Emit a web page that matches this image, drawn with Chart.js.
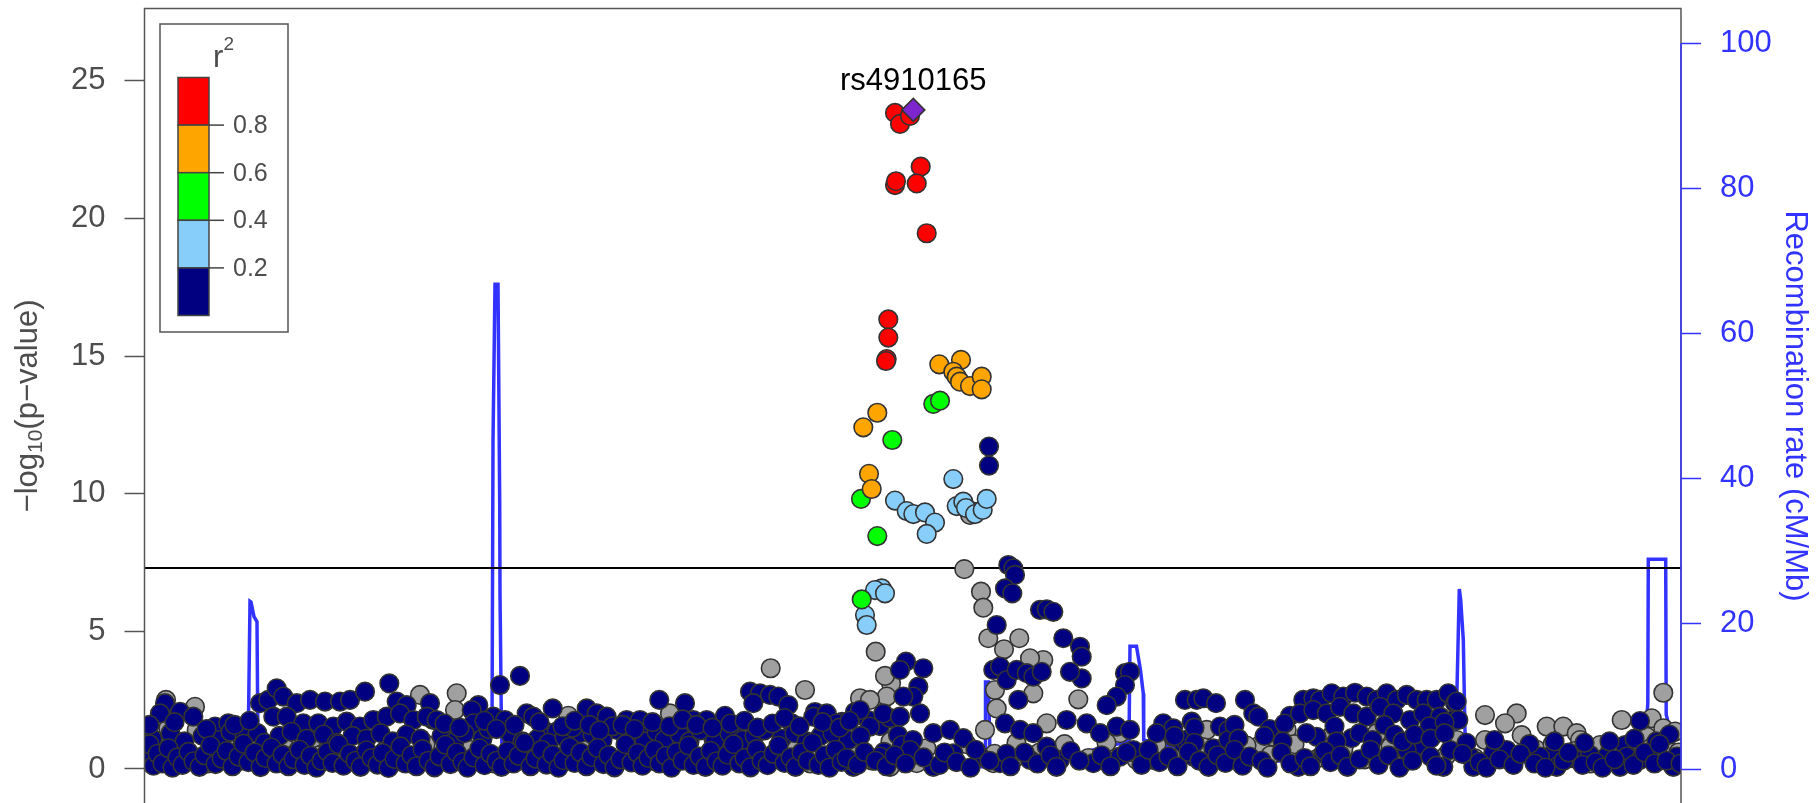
<!DOCTYPE html>
<html>
<head>
<meta charset="utf-8">
<script src="https://cdn.jsdelivr.net/npm/chart.js@4"></script>
<style>
  body { margin: 0; background: #fff; }
  canvas { display: block; }
</style>
</head>
<body>
<canvas id="chart" width="1816" height="803"></canvas>
<script>
// position in kb from the start of the window, value is -log10(p)
const leadSnp = [[768.8, 23.94]];
const leadName = 'rs4910165';
const sigThreshold = 7.30103;

const redSnps = [
  [750.5, 23.83], [755.5, 23.43], [765.5, 23.72], [776.2, 21.88], [750.5, 21.21], [751.5, 21.35],
  [772.2, 21.27], [782.2, 19.46], [743.8, 16.33], [743.8, 15.67], [742.2, 14.89], [741.5, 14.82]
];
const orangeSnps = [
  [794.8, 14.70], [816.5, 14.86], [808.8, 14.43], [812.2, 14.25], [815.5, 14.07], [825.5, 13.91],
  [837.2, 14.25], [837.2, 13.79], [732.8, 12.94], [718.8, 12.41], [724.5, 10.72], [727.2, 10.17]
];
const greenSnps = [
  [788.8, 13.26], [795.5, 13.38], [747.8, 11.95], [716.5, 9.81], [732.8, 8.46], [717.2, 6.16]
];
const lightBlueSnps = [
  [808.8, 10.53], [750.5, 9.75], [762.2, 9.37], [768.8, 9.26], [780.5, 9.32], [790.5, 8.95],
  [782.2, 8.54], [812.2, 9.55], [818.8, 9.71], [821.5, 9.48], [830.5, 9.26], [838.2, 9.41],
  [842.2, 9.81], [737.2, 6.56], [730.5, 6.50], [740.5, 6.38], [720.5, 5.59], [722.2, 5.23]
];
const navySnps = [
  // peak shoulder
  [844.5, 11.71], [844.5, 11.02], [863.8, 7.41], [868.8, 7.29], [870.5, 7.05], [860.5, 6.56], [867.8, 6.38],
  [852.2, 5.23], [895.5, 5.78], [902.2, 5.80], [908.8, 5.71], [918.8, 4.75], [935.5, 4.44], [937.2, 4.08],
  [937.2, 3.29], [925.5, 3.53], [980.5, 3.48], [985.5, 3.53], [980.5, 3.05], [972.2, 2.63], [962.2, 2.32],
  [1040.5, 2.51], [1052.2, 2.51], [1047.2, 1.72], [848.8, 3.60], [855.5, 3.72], [862.2, 3.23], [872.2, 3.60],
  [882.2, 3.48], [888.8, 3.35], [897.2, 3.53], [873.8, 2.51], [761.5, 3.90], [778.8, 3.66], [773.8, 2.99],
  [768.8, 2.63], [755.5, 3.60], [758.8, 2.63],
  // upper band, left half
  [20.5, 2.39], [15.5, 2.02], [35.5, 2.08], [48.8, 1.90], [70.5, 1.54], [83.8, 1.66], [95.5, 1.42],
  [115.5, 2.39], [123.8, 2.51], [132.2, 2.93], [138.8, 2.63], [152.2, 2.39], [165.5, 2.51], [180.5, 2.45],
  [195.5, 2.45], [205.5, 2.51], [220.5, 2.81], [244.8, 3.11], [252.2, 2.45], [262.2, 2.32], [285.5, 2.39],
  [288.8, 1.78], [128.8, 1.90], [142.2, 1.90], [158.8, 1.66], [173.8, 1.66], [188.8, 1.54], [202.2, 1.72],
  [215.5, 1.54], [228.8, 1.78], [242.2, 1.90], [255.5, 2.02], [268.8, 1.78], [282.2, 1.90],
  [355.5, 3.05], [375.5, 3.38], [292.2, 1.78], [333.8, 2.32], [327.2, 2.14], [328.8, 1.66], [348.8, 1.90],
  [360.5, 1.78], [382.2, 2.02], [388.8, 1.90], [408.2, 2.20], [442.2, 2.20], [452.2, 2.02], [462.2, 1.90],
  [398.8, 1.42], [412.2, 1.36], [435.5, 1.30], [482.2, 1.78], [495.5, 1.78], [514.8, 2.51], [540.5, 2.39],
  [548.8, 1.78], [548.8, 1.36], [578.8, 1.78], [562.2, 1.78], [505.5, 1.42], [472.2, 1.42],
  [605.5, 2.81], [615.5, 2.75], [625.5, 2.69], [633.8, 2.63], [643.8, 2.32], [647.2, 1.66], [608.8, 2.39],
  [580.5, 1.93], [590.5, 1.60], [670.5, 2.07], [683.5, 1.85], [697.5, 1.71], [710.5, 2.07], [723.5, 1.78],
  [735.5, 1.56], [745.5, 1.85], [753.5, 1.23], [757.5, 0.87], [739.5, 0.62], [768.5, 1.05],
  [668.8, 1.90], [682.2, 2.02], [692.2, 1.66], [715.5, 2.14], [725.5, 1.54], [738.8, 2.02], [755.5, 1.90],
  [775.5, 2.02], [788.8, 1.30], [805.5, 1.42], [818.8, 1.12], [835.5, 0.45], [860.5, 1.66], [875.5, 1.42],
  [888.8, 1.30], [902.2, 0.81], [922.2, 1.78], [942.2, 1.66], [955.5, 1.30], [972.2, 1.54], [985.5, 1.42],
  [1018.8, 1.66], [1028.8, 1.17], [1038.8, 0.93], [1048.8, 0.45], [1008.8, 0.33], [975.5, 0.45], [948.8, 0.21],
  [915.5, 0.33], [885.5, 0.33], [855.5, 0.21], [788.8, 0.08], [735.5, 0.45], [708.8, 0.08], [765.5, 0.69],
  [808.8, 0.57],
  // upper band, right half
  [1058.8, 2.57], [1071.5, 2.39], [1100.5, 2.51], [1108.8, 2.02], [1113.8, 1.90], [1075.5, 1.54], [1083.8, 1.42],
  [1040.5, 1.05], [1068.8, 0.75], [1085.5, 0.99], [1145.5, 1.93], [1158.8, 2.51], [1168.8, 2.57], [1175.5, 2.51],
  [1187.2, 2.75], [1198.8, 2.63], [1210.5, 2.77], [1222.2, 2.63], [1232.2, 2.51], [1242.2, 2.75], [1252.2, 2.51],
  [1262.2, 2.69], [1272.2, 2.51], [1282.2, 2.51], [1292.2, 2.51], [1303.8, 2.75], [1310.5, 2.39], [1155.5, 2.02],
  [1168.8, 2.14], [1182.2, 2.02], [1195.5, 2.26], [1208.8, 2.02], [1222.2, 1.90], [1235.5, 2.26], [1248.8, 2.02],
  [1265.5, 1.78], [1278.8, 2.02], [1295.5, 1.90], [1308.8, 1.78], [1172.2, 1.17], [1178.8, 0.57], [1207.2, 1.12],
  [1275.5, 0.87], [1262.2, 0.69], [1028.8, 1.48], [1012.2, 1.30], [1083.8, 1.05], [1153.8, 0.08], [988.8, 0.69],
  [1312.2, 2.45], [1313.8, 1.78], [1495.5, 1.74], [1480.5, 0.87], [1503.8, 0.51], [1407.2, 0.51], [1305.5, 0.69],
  [1325.5, 0.45], [1348.8, 0.57], [1362.2, 0.69], [1382.2, 0.63], [1395.5, 0.45], [1428.8, 0.39], [1445.5, 0.51],
  [1462.2, 0.45], [1482.2, 0.45], [1495.5, 0.33], [1532.2, 0.45], [1528.8, 0.08], [1475.5, 0.08], [1412.2, 0.08],
  [1328.8, 0.08], [1298.8, 0.08],
  // middle rows
  [8, 1.1], [26, 1.3], [40, 1.0], [58, 1.2], [75, 1.05], [86, 1.35], [100, 1.15], [113, 1.3], [120, 0.95],
  [135, 1.2], [147, 1.35], [162, 1.1], [179, 1.25], [192, 0.95], [208, 1.2], [222, 1.1], [236, 1.3], [248, 1.0],
  [262, 1.25], [276, 1.1], [297, 1.2], [310, 1.0], [320, 1.3], [338, 1.1], [344, 1.45], [366, 1.25], [378, 1.0],
  [393, 1.1], [404, 0.95], [420, 1.15], [428, 1.5], [448, 1.25], [458, 1.05], [468, 1.55], [486, 1.2], [500, 1.0],
  [512, 1.35], [520, 1.05], [535, 1.25], [545, 1.0], [556, 1.4], [570, 1.0], [585, 1.3], [598, 1.05], [610, 1.2],
  [620, 1.4], [637, 1.1], [650, 1.3], [662, 1.0], [676, 1.2], [688, 1.3], [704, 1.05], [716, 1.2],
  [5, 1.6], [30, 1.7], [62, 1.45], [90, 1.6], [105, 1.75],
  [300, 1.65], [315, 1.5], [340, 1.75], [352, 1.45], [370, 1.6], [395, 1.7], [418, 1.55], [430, 1.75], [445, 1.6],
  [455, 1.4], [478, 1.6], [490, 1.45], [508, 1.7], [525, 1.55], [538, 1.8], [552, 1.6], [568, 1.5], [586, 1.65],
  [600, 1.75], [613, 1.5], [628, 1.65], [640, 1.85], [655, 1.55], [678, 1.7], [695, 1.5], [705, 1.75],
  [1050, 1.5], [1090, 1.6], [1125, 1.45], [1140, 1.65], [1190, 1.55], [1240, 1.6], [1285, 1.55], [1300, 1.7],
  [1030, 1.2], [1050, 0.95], [1094, 1.1], [1120, 1.2], [1138, 1.0], [1162, 1.3], [1192, 1.0], [1215, 1.3],
  [1228, 1.05], [1250, 1.25], [1258, 1.0], [1270, 1.25], [1286, 1.1], [1300, 1.3], [1322, 0.95], [1350, 1.05],
  [1385, 0.9], [1410, 1.0], [1440, 0.95], [1465, 1.0], [1490, 1.1], [1512, 1.0], [1525, 1.25],
  // bottom rows
  [2, 0.35], [5, 0.9], [9, 0.12], [13, 0.55], [18, 0.2], [24, 0.75], [28, 0.05], [33, 0.42], [38, 0.15], [44, 0.62],
  [49, 0.28], [55, 0.08], [60, 0.5], [66, 0.85], [71, 0.18], [77, 0.38], [82, 0.65], [88, 0.1], [94, 0.45], [99, 0.92],
  [104, 0.25], [110, 0.6], [116, 0.07], [121, 0.4], [127, 0.78], [132, 0.2], [138, 0.52], [144, 0.1], [149, 0.35],
  [155, 0.7], [160, 0.15], [166, 0.48], [172, 0.05], [177, 0.3], [183, 0.62], [188, 0.22], [194, 0.9], [199, 0.12],
  [205, 0.55], [211, 0.3], [216, 0.08], [222, 0.68], [227, 0.4], [233, 0.16], [238, 0.58], [244, 0.04], [250, 0.36],
  [256, 0.82], [261, 0.2], [267, 0.5], [272, 0.1], [278, 0.72], [284, 0.3], [290, 0.06], [295, 0.46], [301, 0.88],
  [306, 0.18], [312, 0.6], [318, 0.25], [323, 0.05], [329, 0.42], [335, 0.75], [340, 0.14], [346, 0.55], [352, 0.3],
  [357, 0.08], [363, 0.65], [369, 0.2], [374, 0.48], [380, 0.95], [386, 0.1], [391, 0.38], [397, 0.7], [402, 0.16],
  [408, 0.52], [414, 0.05], [419, 0.32], [425, 0.8], [430, 0.22], [436, 0.6], [442, 0.1], [447, 0.44], [453, 0.76],
  [459, 0.18], [464, 0.5], [470, 0.06], [476, 0.35], [481, 0.9], [487, 0.24], [493, 0.58], [498, 0.12], [504, 0.4],
  [510, 0.7], [515, 0.2], [521, 0.48], [527, 0.05], [532, 0.62], [538, 0.3], [544, 0.85], [549, 0.15], [555, 0.45],
  [561, 0.08], [566, 0.66], [572, 0.28], [578, 0.12], [583, 0.52], [589, 0.9], [595, 0.2], [600, 0.4], [606, 0.06],
  [612, 0.72], [617, 0.3], [623, 0.14], [629, 0.55], [634, 0.85], [640, 0.22], [646, 0.42], [651, 0.08], [657, 0.6],
  [663, 0.3], [668, 0.95], [674, 0.15], [680, 0.5], [685, 0.05], [691, 0.7], [697, 0.26],
  [702, 0.4], [713, 0.15], [720, 0.62], [731, 0.3], [742, 0.1], [750, 0.5], [761, 0.2], [779, 0.42], [795, 0.15],
  [800, 0.6], [812, 0.25], [826, 0.05], [831, 0.7], [845, 0.3], [862, 0.55], [866, 0.1], [880, 0.6], [893, 0.2],
  [906, 0.5], [912, 0.08], [926, 0.65], [935, 0.3], [957, 0.5], [966, 0.1], [982, 0.6], [997, 0.15], [1004, 0.7],
  [1015, 0.25], [1024, 0.45], [1033, 0.1], [1044, 0.62], [1055, 0.3], [1064, 0.08], [1073, 0.5], [1081, 0.22],
  [1090, 0.7], [1098, 0.12], [1105, 0.45], [1117, 0.3], [1123, 0.05], [1137, 0.6], [1146, 0.2], [1160, 0.4],
  [1166, 0.1], [1180, 0.65], [1186, 0.25], [1196, 0.5], [1203, 0.08], [1215, 0.35], [1226, 0.7], [1234, 0.15],
  [1244, 0.5], [1255, 0.05], [1268, 0.3], [1286, 0.45], [1292, 0.12], [1318, 0.55], [1335, 0.25], [1342, 0.05],
  [1355, 0.35], [1369, 0.15], [1376, 0.55], [1390, 0.2], [1401, 0.05], [1419, 0.3], [1424, 0.6], [1438, 0.15],
  [1451, 0.25], [1458, 0.05], [1470, 0.35], [1489, 0.15], [1500, 0.6], [1510, 0.2], [1515, 0.9], [1522, 0.3],
  [1536, 0.2]
];
// SNPs with no LD information
const greySnps = [
  [819.8, 7.26], [836.5, 6.44], [838.8, 5.86], [731.2, 4.26], [843.8, 4.75], [874.8, 4.75], [859.5, 4.35],
  [933.8, 2.53], [888.8, 2.75], [898.8, 3.96], [885.5, 4.02], [850.5, 2.87], [852.2, 2.20], [746.5, 3.11],
  [740.5, 3.38], [660.5, 2.87], [626.2, 3.66], [742.2, 2.63], [715.5, 2.57], [725.5, 2.51], [828.8, 9.35],
  [825.5, 9.23],
  [21.5, 2.51], [23.8, 1.48], [50.5, 2.26], [52.2, 1.42], [138.8, 1.05], [168.8, 1.12], [252.2, 0.81],
  [275.5, 2.69], [312.2, 2.75], [310.5, 2.14], [423.8, 1.93], [525.5, 2.02], [568.8, 1.12], [575.5, 1.20],
  [585.5, 1.12], [582.2, 0.57], [755.5, 1.05], [745.5, 0.08], [762.2, 0.57], [745.5, 1.54], [772.2, 0.21],
  [840.5, 1.42], [848.8, 0.21], [902.2, 1.66], [872.2, 0.45], [975.5, 1.30], [992.2, 0.33], [1055.5, 1.05],
  [1062.2, 1.42], [1115.5, 0.87], [1132.2, 1.30], [1142.2, 1.42], [1188.8, 1.30], [1232.2, 1.30], [1312.2, 1.05],
  [1128.8, 1.17], [1340.5, 1.96], [1372.2, 2.02], [1360.5, 1.66], [1377.2, 1.23], [1340.5, 1.05], [1402.2, 1.54],
  [1418.8, 1.54], [1432.2, 1.30], [1435.5, 1.05], [1477.2, 1.78], [1518.8, 2.77], [1507.2, 1.84], [1518.8, 1.48],
  [1530.5, 1.36], [1502.2, 1.17], [1455.5, 0.87],
  [3, 0.6], [12, 0.3], [15.5, 0.76], [30, 0.9], [46, 0.4], [63, 0.2], [80, 0.95], [96, 0.3], [125, 0.6], [142, 0.25],
  [175, 0.5], [196, 0.85], [218, 0.35], [240, 0.65], [258, 0.25], [281, 0.9], [300, 0.4], [325, 0.7], [350, 0.2],
  [372, 0.9], [395, 0.3], [416, 0.6], [440, 0.85], [462, 0.25], [484, 0.6], [508, 0.3], [530, 0.9], [552, 0.2],
  [576, 0.55], [592, 0.85], [620, 0.4], [644, 0.95], [666, 0.2], [694, 0.5], [710, 0.9], [728, 0.3], [746, 1.0],
  [764, 0.4], [782, 0.75], [808, 0.35], [822, 0.9], [850, 0.55], [872, 0.95], [895, 0.6], [920, 0.9], [944, 0.4],
  [962, 0.95], [990, 0.6], [1012, 0.9], [1036, 0.45], [1058, 0.8], [1078, 0.4], [1102, 0.85], [1126, 0.5],
  [1150, 0.9], [1174, 0.4], [1199, 0.75], [1220, 0.35], [1246, 0.8], [1262, 0.3], [1280, 0.75], [1302, 0.5],
  [1330, 0.4], [1352, 0.85], [1366, 0.3], [1392, 0.7], [1408, 0.9], [1430, 0.65], [1446, 0.2], [1466, 0.7],
  [1486, 0.4], [1506, 0.75], [1520, 0.9], [1534, 0.6]
];

// recombination rate, cM/Mb
const recombPos = [
  0, 2.2, 3, 10.5, 11.5, 12.5, 13.5, 40, 70, 103.5, 105.5, 106.5, 109.5, 112.5, 113.5, 150, 200, 250, 300, 338,
  347.5, 348.5, 350.5, 353.5, 355.2, 355.5, 357, 358, 400, 450, 500, 550, 600, 650, 700, 760, 772, 776, 778, 800,
  832, 840.5, 841, 844, 845.5, 880, 930, 975, 984.5, 985.5, 992, 996, 998.8, 999.2, 1030, 1080, 1150, 1200, 1250,
  1300, 1311.5, 1314.8, 1316.2, 1318.8, 1320.5, 1322, 1400, 1470, 1500, 1503.3, 1503.8, 1521.2, 1521.7, 1530, 1536.5
];
const recombRate = [
  6.2, 6.2, 1.5, 1.5, 4.0, 4.0, 1.0, 1.3, 0.8, 1.5, 23.1, 23.0, 21.0, 20.3, 1.8, 1.2, 0.6, 1.5, 0.9, 4.5,
  4.8, 45, 66.8, 66.8, 37, 24.2, 5.0, 1.5, 1.0, 0.7, 1.2, 0.5, 1.0, 0.8, 1.5, 2.0, 4.2, 4.2, 0.5, 0.3,
  0.3, 0.3, 12.0, 12.0, 2.0, 1.5, 2.0, 3.5, 4.0, 16.9, 16.9, 13.6, 10.4, 4.0, 3.0, 1.5, 1.0, 1.5, 1.2,
  2.0, 5.0, 24.8, 23.3, 17.8, 5.0, 1.5, 0.8, 1.0, 3.0, 9.0, 28.9, 28.9, 7.5, 3.0, 2.0
];

const ldBreaks = [0.8, 0.6, 0.4, 0.2];
const ldColors = ['#ff0000', '#ffa500', '#00ff00', '#87cefa', '#000080'];
const yTicks = [0, 5, 10, 15, 20, 25];
const y2Ticks = [0, 20, 40, 60, 80, 100];

const FONT = '"Liberation Sans", Arial, Helvetica, sans-serif';
const AXIS_GREY = '#4d4d4d';
const RECOMB_BLUE = '#3333ff';

function snpDataset(points, fill, order, style, radius) {
  return {
    data: points.map(([x, y]) => ({ x, y })),
    yAxisID: 'y',
    showLine: false,
    pointStyle: style || 'circle',
    pointRadius: radius || 9.3,
    pointBackgroundColor: fill,
    pointBorderColor: '#333333',
    pointBorderWidth: 1.6,
    order,
    clip: 0
  };
}

const decorPlugin = {
  id: 'decor',
  afterDraw(chart) {
    const { ctx, chartArea: a, scales } = chart;
    ctx.save();

    // plot frame
    ctx.strokeStyle = '#555555';
    ctx.lineWidth = 1.5;
    ctx.beginPath();
    ctx.moveTo(a.left, a.bottom + 2);
    ctx.lineTo(a.left, a.top);
    ctx.lineTo(a.right, a.top);
    ctx.lineTo(a.right, a.bottom + 2);
    ctx.stroke();
    ctx.strokeStyle = RECOMB_BLUE;
    ctx.beginPath();
    ctx.moveTo(a.right, scales.y2.getPixelForValue(y2Ticks[0]));
    ctx.lineTo(a.right, scales.y2.getPixelForValue(y2Ticks[y2Ticks.length - 1]));
    ctx.stroke();

    // lead SNP label
    const lx = scales.x.getPixelForValue(leadSnp[0][0]);
    const ly = scales.y.getPixelForValue(leadSnp[0][1]);
    ctx.fillStyle = '#000';
    ctx.font = '31px ' + FONT;
    ctx.textAlign = 'center';
    ctx.textBaseline = 'alphabetic';
    ctx.fillText(leadName, lx, ly - 20);

    // r2 legend
    const bx = a.left + 15.5, by = a.top + 15.5;
    ctx.strokeStyle = '#555555';
    ctx.lineWidth = 1.5;
    ctx.strokeRect(bx, by, 128, 308);
    ctx.fillStyle = AXIS_GREY;
    ctx.textAlign = 'left';
    ctx.font = '31px ' + FONT;
    ctx.fillText('r', bx + 53, by + 43);
    ctx.font = '19px ' + FONT;
    ctx.fillText('2', bx + 63.5, by + 26);
    const segH = 47.6, barX = bx + 18, barW = 31, barTop = by + 53.5;
    ldColors.forEach((c, i) => {
      ctx.fillStyle = c;
      ctx.fillRect(barX, barTop + i * segH, barW, segH);
      ctx.strokeStyle = '#444444';
      ctx.strokeRect(barX, barTop + i * segH, barW, segH);
    });
    ctx.font = '25px ' + FONT;
    ctx.textBaseline = 'middle';
    ldBreaks.forEach((b, i) => {
      const ty = barTop + (i + 1) * segH;
      ctx.strokeStyle = '#444444';
      ctx.beginPath();
      ctx.moveTo(barX + barW, ty);
      ctx.lineTo(barX + barW + 15, ty);
      ctx.stroke();
      ctx.fillStyle = AXIS_GREY;
      ctx.fillText(b.toFixed(1), barX + barW + 24, ty + 1);
    });

    // left axis title with subscript
    const big = '31px ' + FONT, small = '21px ' + FONT;
    ctx.save();
    ctx.translate(37, 406);
    ctx.rotate(-Math.PI / 2);
    ctx.fillStyle = AXIS_GREY;
    ctx.textBaseline = 'alphabetic';
    ctx.textAlign = 'left';
    ctx.font = big;
    const w1 = ctx.measureText('\u2212log').width;
    const w3 = ctx.measureText('(p\u2212value)').width;
    ctx.font = small;
    const w2 = ctx.measureText('10').width;
    let tx = -(w1 + w2 + w3) / 2;
    ctx.font = big;
    ctx.fillText('\u2212log', tx, 0);
    tx += w1;
    ctx.font = small;
    ctx.fillText('10', tx, 5);
    tx += w2;
    ctx.font = big;
    ctx.fillText('(p\u2212value)', tx, 0);
    ctx.restore();

    // right axis title
    ctx.save();
    ctx.translate(1786, 406);
    ctx.rotate(Math.PI / 2);
    ctx.fillStyle = RECOMB_BLUE;
    ctx.font = big;
    ctx.textAlign = 'center';
    ctx.textBaseline = 'alphabetic';
    ctx.fillText('Recombination rate (cM/Mb)', 0, 0);
    ctx.restore();

    ctx.restore();
  }
};

new Chart(document.getElementById('chart'), {
  type: 'scatter',
  data: {
    datasets: [
      snpDataset(leadSnp, '#7d26cd', 0, 'rectRot', 11.5),
      snpDataset(redSnps, ldColors[0], 1),
      snpDataset(orangeSnps, ldColors[1], 2),
      snpDataset(greenSnps, ldColors[2], 3),
      snpDataset(lightBlueSnps, ldColors[3], 4),
      snpDataset(navySnps, ldColors[4], 5),
      snpDataset(greySnps, '#a0a0a0', 6),
      {
        data: [{ x: 0, y: sigThreshold }, { x: 1536.5, y: sigThreshold }],
        yAxisID: 'y', showLine: true, pointRadius: 0, borderColor: '#000', borderWidth: 2, order: 7, clip: 0
      },
      {
        data: recombPos.map((x, i) => ({ x, y: recombRate[i] })),
        yAxisID: 'y2', showLine: true, pointRadius: 0, borderColor: RECOMB_BLUE, borderWidth: 3.5,
        tension: 0, order: 8, clip: 0
      }
    ]
  },
  options: {
    responsive: false,
    devicePixelRatio: 1,
    animation: false,
    events: [],
    layout: { autoPadding: false, padding: { top: 8.5, bottom: 0, left: 0, right: 0 } },
    plugins: { legend: { display: false }, tooltip: { enabled: false } },
    scales: {
      x: { type: 'linear', display: false, min: 0, max: 1536.5 },
      y: {
        type: 'linear', position: 'left', min: -1.235, max: 27.624,
        afterBuildTicks: s => { s.ticks = yTicks.map(v => ({ value: v })); },
        afterFit: s => { s.width = 144.5; s.paddingTop = 0; s.paddingBottom = 0; },
        border: { display: false },
        grid: { drawOnChartArea: false, drawTicks: true, tickLength: 20, tickColor: '#555555', tickWidth: 1.5 },
        ticks: { color: AXIS_GREY, padding: 19, font: { family: FONT, size: 31 }, callback: v => String(v) }
      },
      y2: {
        type: 'linear', position: 'right', min: -4.685, max: 104.8,
        afterBuildTicks: s => { s.ticks = y2Ticks.map(v => ({ value: v })); },
        afterFit: s => { s.width = 135; s.paddingTop = 0; s.paddingBottom = 0; },
        border: { display: false },
        grid: { drawOnChartArea: false, drawTicks: true, tickLength: 20, tickColor: RECOMB_BLUE, tickWidth: 1.5 },
        ticks: { color: RECOMB_BLUE, padding: 19, font: { family: FONT, size: 31 }, callback: v => String(v) }
      }
    }
  },
  plugins: [decorPlugin]
});
</script>
</body>
</html>
